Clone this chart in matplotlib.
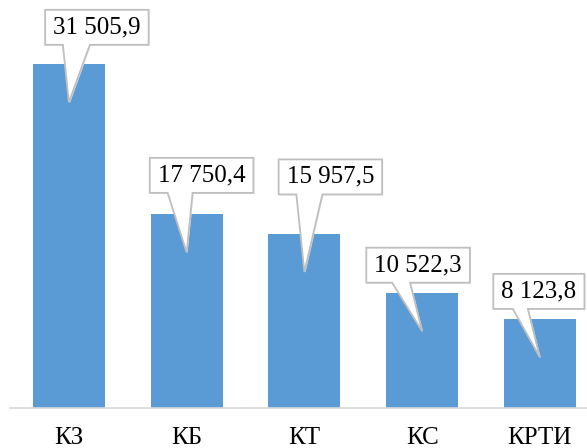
#!/usr/bin/env python3
"""
plot.py
-------
Bar chart with speech-bubble value callouts (КЗ, КБ, КТ, КС, КРТИ).
"""

import matplotlib
matplotlib.use('Agg')
import matplotlib.pyplot as plt
import matplotlib.transforms as mtransforms
from matplotlib.patches import Polygon

# Data
categories = ['КЗ', 'КБ', 'КТ', 'КС', 'КРТИ']
values = [31505.9, 17750.4, 15957.5, 10522.3, 8123.8]
value_labels = ['31 505,9', '17 750,4', '15 957,5', '10 522,3', '8 123,8']

# Callout layout, in pixels relative to the top centre of each bar:
# box centre (dx, dy) and left/right x of the tail where it leaves the box
BOX_CENTRE = [(28, 37), (15, 39), (26, 57), (-4, 28), (-1, 28)]
TAIL_BASE = [(-6, 21), (-19, 6), (-8, 18), (-30, -12), (-27, -12)]
TIP_DROP = 38
BOX_H = 35
BOX_PAD = 8

BAR_COLOR = '#5B9BD5'
EDGE_COLOR = '#BFBFBF'
FONT = 'Liberation Serif'
FS = 18
DPI = 100


def draw_callout(fig, ax, x, y, text, centre, tail, renderer):
    """Draw a white bubble with a tail pointing into the bar at (x, y)."""
    px = 1.0 / DPI
    trans = fig.dpi_scale_trans + mtransforms.ScaledTranslation(x, y, ax.transData)

    t = ax.text(centre[0] * px, centre[1] * px, text, transform=trans,
                ha='center', va='center', fontsize=FS, family=FONT, zorder=5)
    w = t.get_window_extent(renderer).width + 2 * BOX_PAD

    left, right = centre[0] - w / 2, centre[0] + w / 2
    bot, top = centre[1] - BOX_H / 2, centre[1] + BOX_H / 2
    verts = [
        (left, bot), (tail[0], bot), (0, -TIP_DROP), (tail[1], bot),
        (right, bot), (right, top), (left, top),
    ]
    verts = [(vx * px, vy * px) for vx, vy in verts]
    # soft shadow, then the bubble itself
    shadow = Polygon(verts, closed=True, transform=trans + mtransforms.Affine2D().translate(1, -1),
                     fc='#E6E6E6', ec='none', zorder=3)
    bubble = Polygon(verts, closed=True, transform=trans, fc='white',
                     ec=EDGE_COLOR, lw=1.3, joinstyle='miter', zorder=4)
    ax.add_patch(shadow)
    ax.add_patch(bubble)


def main() -> None:
    fig = plt.figure(figsize=(5.87, 4.48), dpi=DPI)
    ax = fig.add_axes([10 / 587, 40 / 448, 588.75 / 587, 408 / 448])

    pos = list(range(len(categories)))
    ax.bar(pos, values, width=0.61, color=BAR_COLOR, zorder=2)

    ax.set_xlim(-0.5, len(categories) - 0.5)
    ax.set_ylim(0, 37400)
    ax.set_xticks(pos)
    ax.set_xticklabels(categories, family=FONT, fontsize=FS)
    ax.tick_params(axis='x', length=0, pad=14)
    ax.set_yticks([])
    for side in ('top', 'right', 'left'):
        ax.spines[side].set_visible(False)
    ax.spines['bottom'].set_color('#D9D9D9')
    ax.spines['bottom'].set_linewidth(1.2)

    renderer = fig.canvas.get_renderer()
    for i, v in enumerate(values):
        draw_callout(fig, ax, i, v, value_labels[i], BOX_CENTRE[i], TAIL_BASE[i], renderer)

    for p in ax.patches:
        p.set_clip_on(False)

    fig.savefig('out.png', dpi=DPI)
    plt.close(fig)


if __name__ == '__main__':
    main()
